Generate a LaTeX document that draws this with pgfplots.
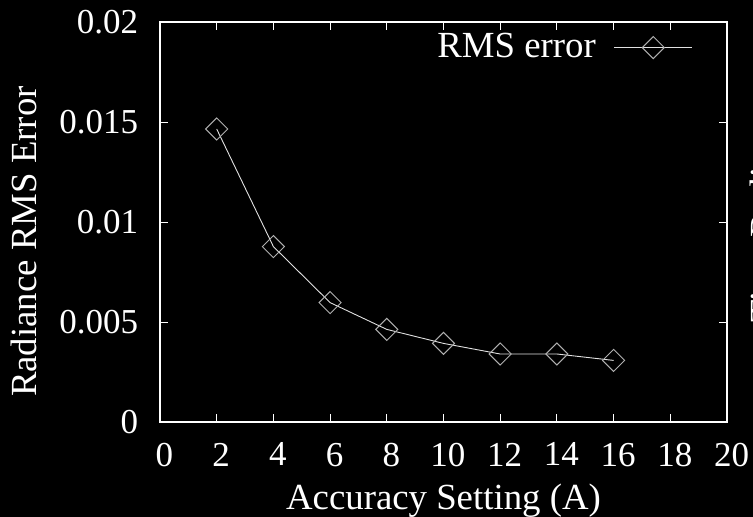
\documentclass[border=0pt]{standalone}
\usepackage{fontspec}
\setmainfont{Liberation Serif}
\usepackage{pgfplots}
\pgfplotsset{compat=1.18}
\definecolor{mk}{RGB}{175,175,175}
\definecolor{ln}{RGB}{225,225,225}
\begin{document}
\fontsize{35}{40}\selectfont
\begin{tikzpicture}
\fill[black] (-160pt,-95pt) rectangle (593pt,422pt);
\begin{axis}[
  at={(0pt,0pt)}, anchor=south west,
  scale only axis, width=567pt, height=400pt,
  xmin=0, xmax=20, ymin=0, ymax=0.02,
  xtick={0,2,...,20},
  ytick={0,0.005,0.01,0.015,0.02},
  yticklabels={0,0.005,0.01,0.015,0.02},
  scaled y ticks=false,
  /pgf/number format/assume math mode=true,
  axis line style={white, line width=1.3pt},
  tick style={white, line width=0.8pt},
  major tick length=8pt,
  tick align=inside,
  ticklabel style={white, font=\fontsize{35}{40}\selectfont},
  xticklabel style={yshift=-9pt, xshift=4.5pt},
  yticklabel style={xshift=-10pt},
  label style={white, font=\fontsize{36.8}{42}\selectfont},
  xlabel={Accuracy Setting (A)},
  ylabel={Radiance RMS Error},
  xlabel style={at={([yshift=-87pt]axis description cs:0.5,0)}, anchor=base},
  ylabel style={at={([xshift=-123pt]axis description cs:0,0.451)}, anchor=base, rotate=0},
  legend plot pos=right,
  legend style={draw=none, fill=none, text=white, font=\fontsize{36.8}{42}\selectfont,
    at={(0.940,0.936)}, anchor=east, inner sep=0pt, column sep=18pt,
    nodes={inner sep=0pt}},
  legend image code/.code={\draw[#1, mark repeat=2, mark phase=2] plot coordinates {(0pt,0pt) (39pt,0pt) (78pt,0pt)};},
]
\addplot[color=ln, line width=0.9pt, mark=square, mark size=7.8pt,
  mark options={color=mk, rotate=45, line width=1pt}]
  coordinates {(2,0.01465) (4,0.00877) (6,0.00597) (8,0.00463) (10,0.00393) (12,0.00340) (14,0.00340) (16,0.00308)};
\addlegendentry{RMS error}
\end{axis}
\node[white, rotate=90, anchor=base west, inner sep=0pt, font=\fontsize{36.8}{42}\selectfont] at (615.5pt,99pt) {Time Radiance};
\pgfresetboundingbox
\path[use as bounding box] (-160pt,-95pt) rectangle (593pt,422pt);
\end{tikzpicture}
\end{document}
